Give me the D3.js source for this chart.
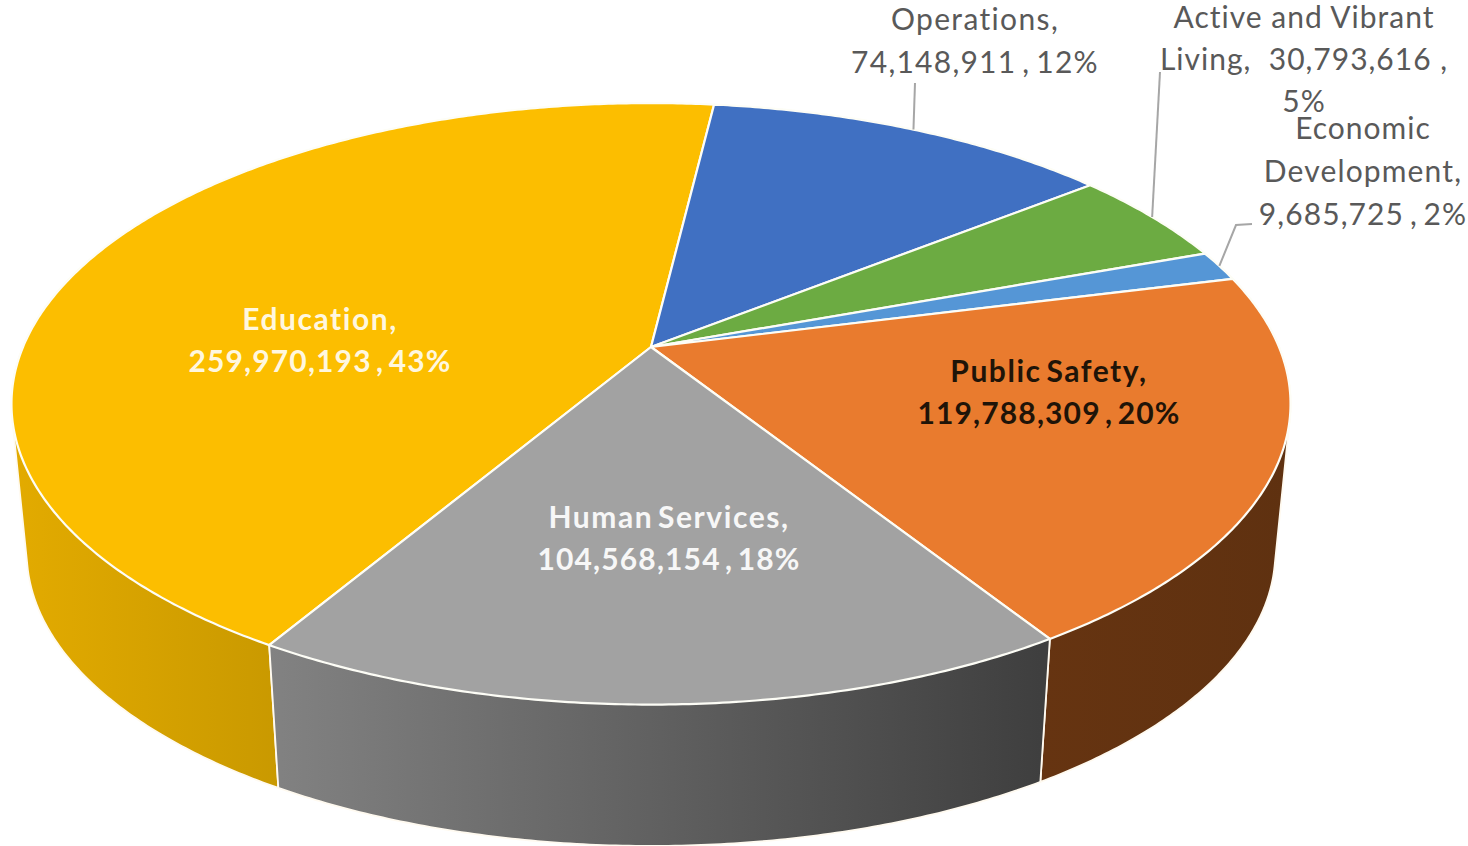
<!DOCTYPE html>
<html>
<head>
<meta charset="utf-8">
<title>Budget by service area</title>
<script src="https://cdn.jsdelivr.net/npm/d3@7"></script>
<style>
  html, body { margin: 0; padding: 0; background: #fff; overflow: hidden; }
  svg { display: block; }
  text { font-family: Lato, "Open Sans", sans-serif; white-space: pre; }
</style>
</head>
<body>
<svg id="chart" width="1468" height="846"></svg>
<script>
// Service areas in drawing order, clockwise from the Education slice.
const categories = ["Education", "Operations", "Active and Vibrant Living", "Economic Development", "Public Safety", "Human Services"];
const values = [259970193, 74148911, 30793616, 9685725, 119788309, 104568154];
const percents = ["43%", "12%", "5%", "2%", "20%", "18%"];
const topColors = ["#fcbe00", "#4070c2", "#6cab42", "#5596d6", "#e97b2e", "#a2a2a2"];

// Text block for each label, one entry per drawn line.
const amounts = values.map(d3.format(","));
const labelLines = [
  ["Education,", `${amounts[0]} , ${percents[0]}`],
  ["Operations,", `${amounts[1]} , ${percents[1]}`],
  ["Active and Vibrant", `Living,  ${amounts[2]} ,`, percents[2]],
  ["Economic", "Development,", `${amounts[3]} , ${percents[3]}`],
  ["Public Safety,", `${amounts[4]} , ${percents[4]}`],
  ["Human Services,", `${amounts[5]} , ${percents[5]}`]
];

// Label placement: centre x, first baseline, line step, type style.
// The bold labels track their name line wider than their figures line.
const boldName = 1.55, boldFigures = 1.14;
const labelStyle = [
  { x: 320, y: 330, step: 42, fill: "#fff7df", weight: 700, size: 30, tracking: [boldName, boldFigures], gap: -4 },
  { x: 975, y: 30, step: 43, fill: "#595959", weight: 400, size: 30, tracking: [1.35, 1.25], gap: -3 },
  { x: 1304, y: 28, step: 42, fill: "#595959", weight: 400, size: 30, tracking: [1.0, 1.0, 1.0], gap: 0 },
  { x: 1363, y: 139, step: 43, fill: "#595959", weight: 400, size: 30, tracking: [1.0, 1.15, 1.1], gap: -3 },
  { x: 1049, y: 382, step: 42, fill: "#1f1408", weight: 700, size: 30, tracking: [boldName, 1.14], gap: -4 },
  { x: 669, y: 528, step: 42, fill: "#f7f7f7", weight: 700, size: 30, tracking: [boldName, boldFigures], gap: -4 }
];

// Perspective view of the pie: v runs from the far rim (-1) to the near rim (+1).
const tilt = 0.189;
const topDisc = {
  x: d3.scaleLinear().domain([-1, 1]).range([651 - 628, 651 + 628]),
  y: d3.scaleLinear().domain([-1, 1]).range([347 - 290, 347 + 290])
};
const baseDisc = {
  x: d3.scaleLinear().domain([-1, 1]).range([651 - 613, 651 + 613]),
  y: d3.scaleLinear().domain([-1, 1]).range([497 - 283, 497 + 283])
};
function project(disc, angle, radius = 1) {
  const u = Math.sin(angle) * radius;
  const v = -Math.cos(angle) * radius;
  const w = 1 - tilt * v;
  return [disc.x(u / w), disc.y(v / w)];
}

const rad = d => d * Math.PI / 180;
const startAngle = rad(210.6);
const slices = d3.pie().sort(null).startAngle(startAngle).endAngle(startAngle + 2 * Math.PI)(values);

const svg = d3.select("#chart");
const line = d3.line();
const defs = svg.append("defs");

function arcAngles(a0, a1) {
  const n = Math.max(2, Math.ceil(Math.abs(a1 - a0) / rad(0.5)));
  return d3.range(n + 1).map(i => a0 + (a1 - a0) * i / n);
}

// Side walls, shaded left to right.
function wallGradient(id, x0, x1, c0, c1) {
  const g = defs.append("linearGradient").attr("id", id)
    .attr("gradientUnits", "userSpaceOnUse")
    .attr("x1", x0).attr("x2", x1).attr("y1", 0).attr("y2", 0);
  g.append("stop").attr("offset", 0).attr("stop-color", c0);
  g.append("stop").attr("offset", 1).attr("stop-color", c1);
}
wallGradient("wall-education", 10, 280, "#e3ab00", "#c99900");
wallGradient("wall-human", 270, 1040, "#828282", "#3f3f3f");
wallGradient("wall-safety", 1040, 1290, "#663411", "#5f3110");

// Each wall is the hull of its rim arcs on both discs, running past the widest
// point of the rim; the top face hides the overrun.
const overrun = rad(75);
const walls = [
  { a0: slices[0].startAngle, a1: slices[0].startAngle + overrun, fill: "url(#wall-education)" },
  { a0: slices[4].endAngle - overrun, a1: slices[4].endAngle, fill: "url(#wall-safety)" },
  { a0: slices[5].startAngle, a1: slices[5].endAngle, fill: "url(#wall-human)" }
];
svg.append("g").selectAll("path").data(walls).join("path")
  .attr("d", d => {
    const angles = arcAngles(d.a0, d.a1);
    const pts = angles.map(a => project(topDisc, a)).concat(angles.map(a => project(baseDisc, a)));
    return line(d3.polygonHull(pts)) + "Z";
  })
  .attr("fill", d => d.fill)
  .attr("stroke", "#fffaf0")
  .attr("stroke-width", 1.8)
  .attr("stroke-linejoin", "round");

// Top face of the pie.
svg.append("g").selectAll("path").data(slices).join("path")
  .attr("d", d => {
    const rim = arcAngles(d.startAngle, d.endAngle).map(a => project(topDisc, a));
    return line([project(topDisc, 0, 0), ...rim]) + "Z";
  })
  .attr("fill", (d, i) => topColors[i])
  .attr("stroke", "#fdfdf6")
  .attr("stroke-width", 2.2)
  .attr("stroke-linejoin", "round");

// Leader lines for the labels placed outside the pie.
const leaderEnds = { 1: [[915, 83]], 2: [[1160, 72]], 3: [[1236, 225], [1252, 224]] };
svg.append("g").selectAll("path").data(Object.keys(leaderEnds)).join("path")
  .attr("d", i => {
    const s = slices[+i];
    return line([project(topDisc, (s.startAngle + s.endAngle) / 2), ...leaderEnds[i]]);
  })
  .attr("fill", "none")
  .attr("stroke", "#a6a6a6")
  .attr("stroke-width", 2);

// Data labels.
const labels = svg.append("g").selectAll("text").data(labelLines).join("text")
  .attr("text-anchor", "middle")
  .attr("fill", (d, i) => labelStyle[i].fill)
  .attr("font-weight", (d, i) => labelStyle[i].weight)
  .attr("font-size", (d, i) => labelStyle[i].size)
  .attr("word-spacing", (d, i) => labelStyle[i].gap);
labels.each(function (lines, i) {
  const st = labelStyle[i];
  d3.select(this).selectAll("tspan").data(lines).join("tspan")
    .attr("x", st.x)
    .attr("y", (d, j) => st.y + j * st.step)
    .attr("letter-spacing", (d, j) => st.tracking[j])
    .text(d => d);
});
</script>
</body>
</html>
